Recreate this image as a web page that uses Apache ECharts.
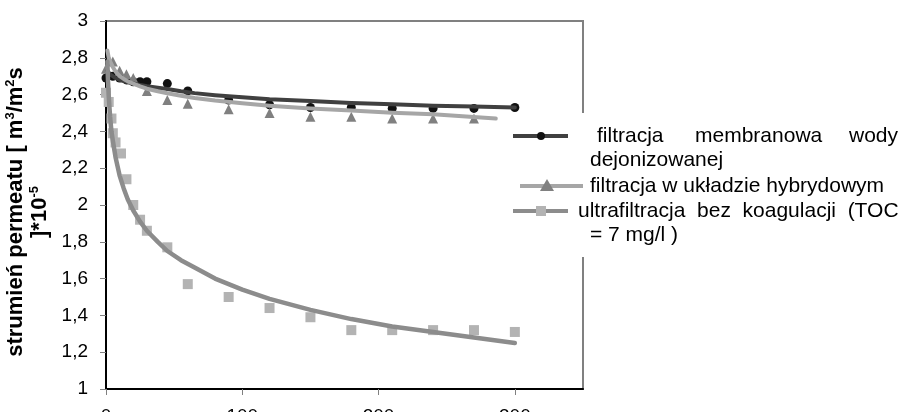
<!DOCTYPE html>
<html>
<head>
<meta charset="utf-8">
<script src="https://cdn.jsdelivr.net/npm/echarts@6/dist/echarts.min.js"></script>
<style>
html,body{margin:0;padding:0;background:#fff;}
#chart{width:899px;height:412px;}
</style>
</head>
<body>
<div id="chart"></div>
<script>
// ---- data ----
const seriesNames = [
  'filtracja membranowa wody dejonizowanej',
  'filtracja w układzie hybrydowym',
  'ultrafiltracja bez koagulacji (TOC = 7 mg/l )'
];
const xTickLabels = [0, 100, 200, 300];
const yTickLabels = [1, 1.2, 1.4, 1.6, 1.8, 2, 2.2, 2.4, 2.6, 2.8, 3];

const circleX = [0, 5, 10, 15, 20, 25, 30, 45, 60, 90, 120, 150, 180, 210, 240, 270, 300];
const circleY = [2.69, 2.70, 2.69, 2.68, 2.67, 2.67, 2.67, 2.66, 2.62, 2.57, 2.545, 2.53, 2.53, 2.525, 2.525, 2.525, 2.53];

const triangleX = [0, 5, 10, 15, 20, 30, 45, 60, 90, 120, 150, 180, 210, 240, 270];
const triangleY = [2.74, 2.78, 2.73, 2.71, 2.69, 2.62, 2.57, 2.55, 2.52, 2.50, 2.48, 2.48, 2.47, 2.47, 2.47];

const squareX = [0, 2, 4, 5, 7, 11, 15, 20, 25, 30, 45, 60, 90, 120, 150, 180, 210, 240, 270, 300];
const squareY = [2.61, 2.56, 2.47, 2.39, 2.34, 2.28, 2.14, 2.00, 1.92, 1.86, 1.77, 1.57, 1.50, 1.44, 1.39, 1.32, 1.32, 1.32, 1.32, 1.31];

const trendX = [1, 1.5, 2, 3, 4, 5, 7, 10, 13, 16, 20, 25, 30, 38, 45, 55, 65, 80, 100, 120, 150, 180, 210, 240, 270, 300];
const darkTrendY = [2.73, 2.725, 2.72, 2.71, 2.705, 2.70, 2.69, 2.68, 2.673, 2.667, 2.66, 2.652, 2.645, 2.637, 2.63, 2.618, 2.608, 2.597, 2.585, 2.575, 2.565, 2.555, 2.548, 2.54, 2.535, 2.53];
const ufTrendY = [2.78, 2.67, 2.59, 2.48, 2.40, 2.35, 2.26, 2.16, 2.09, 2.03, 1.97, 1.91, 1.86, 1.80, 1.75, 1.70, 1.66, 1.60, 1.54, 1.49, 1.43, 1.38, 1.34, 1.31, 1.28, 1.25];

const hybridTrendX = [1, 1.5, 2, 3, 4, 5, 7, 10, 13, 16, 20, 25, 30, 38, 45, 55, 65, 80, 100, 120, 150, 180, 210, 240, 286];
const hybridTrendY = [2.84, 2.82, 2.80, 2.78, 2.765, 2.75, 2.725, 2.70, 2.685, 2.672, 2.66, 2.645, 2.632, 2.618, 2.607, 2.594, 2.582, 2.568, 2.553, 2.54, 2.525, 2.513, 2.502, 2.493, 2.47];

// ---- chart ----
const FONT = '"Liberation Sans", Arial, sans-serif';
const zip = (xs, ys) => xs.map((x, i) => [x, ys[i]]);

const chart = echarts.init(document.getElementById('chart'), null, {renderer: 'canvas'});

const legendItems = [];
function txt(x, y, s) {
  return {type: 'text', z: 101, x: x, y: y,
    style: {text: s, fill: '#000', font: '21px ' + FONT, verticalAlign: 'middle'}};
}
function seg(x1, x2, y, color) {
  return {type: 'line', z: 101, shape: {x1: x1, y1: y, x2: x2, y2: y},
    style: {stroke: color, lineWidth: 4}};
}
legendItems.push({type: 'rect', z: 100, shape: {x: 513, y: 113, width: 386, height: 144}, style: {fill: '#fff'}});
// item 1
legendItems.push(seg(513, 568, 136, '#404040'));
legendItems.push({type: 'circle', z: 102, shape: {cx: 541, cy: 136, r: 4}, style: {fill: '#111'}});
legendItems.push(txt(597, 136, 'filtracja'));
legendItems.push(txt(695, 136, 'membranowa'));
legendItems.push(txt(849, 136, 'wody'));
legendItems.push(txt(590, 160, 'dejonizowanej'));
// item 2
legendItems.push(seg(520, 583, 186, '#a6a6a6'));
legendItems.push({type: 'polygon', z: 102, shape: {points: [[547, 179], [540, 191], [554, 191]]}, style: {fill: '#808080'}});
legendItems.push(txt(590, 186, 'filtracja w układzie hybrydowym'));
// item 3
legendItems.push(seg(513, 568, 211, '#8c8c8c'));
legendItems.push({type: 'rect', z: 102, shape: {x: 536, y: 206, width: 10, height: 10}, style: {fill: '#b3b3b3'}});
legendItems.push(txt(578, 211, 'ultrafiltracja  bez  koagulacji  (TOC'));
legendItems.push(txt(590, 235, '= 7 mg/l )'));

const option = {
  animation: false,
  backgroundColor: '#fff',
  grid: {left: 106, right: 316, top: 21, bottom: 23, outerBoundsMode: 'none', containLabel: false,
    show: true, borderColor: '#808080', borderWidth: 2, backgroundColor: 'transparent'},
  xAxis: {
    type: 'value', min: 0, max: 350,
    axisLine: {show: true, onZero: false, lineStyle: {color: '#000', width: 2}},
    axisTick: {show: true, inside: false, length: 6, lineStyle: {color: '#808080'}, customValues: xTickLabels},
    axisLabel: {show: true, margin: 18, fontSize: 19, fontFamily: FONT, color: '#000', customValues: xTickLabels},
    splitLine: {show: false}
  },
  yAxis: {
    type: 'value', min: 1, max: 3, interval: 0.2,
    axisLine: {show: true, onZero: false, lineStyle: {color: '#000', width: 2}},
    axisTick: {show: true, inside: false, length: 6, lineStyle: {color: '#808080'}},
    axisLabel: {margin: 18, fontSize: 19, fontFamily: FONT, color: '#000',
      formatter: v => {
        const r = Math.round(v * 10) / 10;
        return String(r).replace('.', ',');
      }},
    splitLine: {show: false},
    name: '{b|strumień permeatu [ m}{s|3}{b|/m}{s|2}{b|s}\n{b|]*10}{s|-5}',
    nameLocation: 'middle', nameRotate: 90, nameGap: 41,
    nameTextStyle: {
      fontSize: 22, fontWeight: 'bold', fontFamily: FONT, color: '#000', align: 'center',
      padding: [0, 14, 0, 0],
      rich: {
        b: {fontSize: 22, fontWeight: 'bold', fontFamily: FONT, color: '#000', lineHeight: 24},
        s: {fontSize: 13, fontWeight: 'bold', fontFamily: FONT, color: '#000', verticalAlign: 'top'}
      }
    }
  },
  series: [
    {name: seriesNames[0] + ' pts', type: 'scatter', symbol: 'circle', symbolSize: 9,
      itemStyle: {color: '#111', opacity: 1}, data: zip(circleX, circleY), z: 2},
    {name: seriesNames[1] + ' pts', type: 'scatter', symbol: 'triangle', symbolSize: 10,
      itemStyle: {color: '#808080', opacity: 1}, data: zip(triangleX, triangleY), z: 2},
    {name: seriesNames[2] + ' pts', type: 'scatter', symbol: 'rect', symbolSize: 10,
      itemStyle: {color: '#b3b3b3', opacity: 1}, data: zip(squareX, squareY), z: 2},
    {name: seriesNames[0], type: 'line', showSymbol: false, symbol: 'none', smooth: false,
      lineStyle: {color: '#404040', width: 4, cap: 'round', join: 'round'}, data: zip(trendX, darkTrendY), z: 3},
    {name: seriesNames[1], type: 'line', showSymbol: false, symbol: 'none', smooth: false,
      lineStyle: {color: '#a6a6a6', width: 4, cap: 'round', join: 'round'}, data: zip(hybridTrendX, hybridTrendY), z: 3},
    {name: seriesNames[2], type: 'line', showSymbol: false, symbol: 'none', smooth: false,
      lineStyle: {color: '#8c8c8c', width: 4.5, cap: 'round', join: 'round'}, data: zip(trendX, ufTrendY), z: 3}
  ],
  graphic: {elements: legendItems}
};
chart.setOption(option);
</script>
</body>
</html>
